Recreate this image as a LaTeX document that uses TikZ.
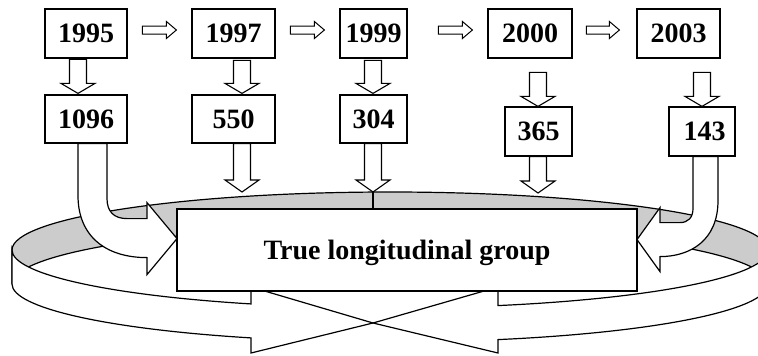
\documentclass[tikz,border=0pt]{standalone}
\usepackage{fontspec}
\setmainfont{Liberation Serif}
\usetikzlibrary{calc}
\definecolor{bandgray}{RGB}{204,204,204}
\begin{document}
\begin{tikzpicture}[x=1pt,y=1pt,line width=1.2pt,line join=miter,
  box/.style={draw,fill=white,inner sep=0pt,font=\fontsize{28}{30}\selectfont\bfseries},
  yearbox/.style={box,minimum height=49pt},
  downblk/.style={fill=white,draw,line width=1.1pt,to path={let \p1=(\tikztostart), \p2=(\tikztotarget) in
    (\x1-8.5,\y1) -- (\x1+8.5,\y1) -- (\x1+8.5,\y2+#1) -- (\x1+17,\y2+#1) -- (\x2,\y2) -- (\x1-17,\y2+#1) -- (\x1-8.5,\y2+#1) -- cycle}},
  downblk/.default=10,
  rightblk/.style={fill=white,draw,line width=1pt,to path={let \p1=(\tikztostart), \p2=(\tikztotarget) in
    (\x1,\y1+4) -- (\x2-10,\y1+4) -- (\x2-10,\y1+8.5) -- (\x2,\y1) -- (\x2-10,\y1-8.5) -- (\x2-10,\y1-4) -- (\x1,\y1-4) -- cycle}},
  ring/.style={x radius=378pt,y radius=58pt}
]
\useasboundingbox (0,0) rectangle (758,-356);
\clip (0,0) rectangle (758,-356);

% back of the ribbon ring (inside, grey)
\filldraw[fill=bandgray] (12,-250) arc[start angle=180,end angle=0,ring] -- (768,-284)
  arc[start angle=0,end angle=180,ring] -- cycle;
% seam where the two ribbon arrows start
\draw (373,-192.1) -- (373,-226.1);
% front of the ring: left ribbon arrow
\filldraw[fill=white] (12,-250) arc[start angle=180,end angle=248.43,ring] -- (251,-287) -- (373,-323)
  -- (251,-353) -- (251,-337.9) arc[start angle=248.43,end angle=180,ring] -- cycle;
% front of the ring: right ribbon arrow
\filldraw[fill=white] (768,-250) arc[start angle=360,end angle=286.6,ring] -- (498,-287) -- (373,-323)
  -- (498,-353) -- (498,-339.6) arc[start angle=286.6,end angle=360,ring] -- cycle;

% central box
\node[box,minimum width=460pt,minimum height=82pt,text depth=0pt] (group) at (407,-250) {True longitudinal group};

% year boxes
\node[yearbox,minimum width=82pt] (y1995) at (86,-33.5) {1995};
\node[yearbox,minimum width=83pt] (y1997) at (233.5,-33.5) {1997};
\node[yearbox,minimum width=67pt] (y1999) at (373.5,-33.5) {1999};
\node[yearbox,minimum width=84pt] (y2000) at (530,-33.5) {2000};
\node[yearbox,minimum width=83pt] (y2003) at (678.5,-33.5) {2003};

% count boxes
\node[box,minimum width=82pt,minimum height=48pt] (n1096) at (86,-119) {1096};
\node[box,minimum width=83pt,minimum height=48pt] (n550) at (233.5,-119) {550};
\node[box,minimum width=67pt,minimum height=48pt] (n304) at (373.5,-119) {304};
\node[box,minimum width=67pt,minimum height=49pt] (n365) at (538.5,-131.5) {365};
\node[box,minimum width=66pt,minimum height=49pt] (n143) at (702,-131.5) {\hspace*{5pt}143};

% arrows between years
\draw[rightblk] ($(y1997.west)+(-49,3.5)$) to ($(y1997.west)+(-15,3.5)$);
\draw[rightblk] ($(y1999.west)+(-49,3.5)$) to ($(y1999.west)+(-15,3.5)$);
\draw[rightblk] ($(y2000.west)+(-49,3.5)$) to ($(y2000.west)+(-15,3.5)$);
\draw[rightblk] ($(y2003.west)+(-50,3.5)$) to ($(y2003.west)+(-17,3.5)$);

% arrows from years to counts
\draw[downblk] ($(n1096.north)+(-8,35)$) to ($(n1096.north)+(-8,1)$);
\draw[downblk] ($(n550.north)+(8.5,34)$) to ($(n550.north)+(8.5,1)$);
\draw[downblk] ($(n304.north)+(-0.5,34)$) to ($(n304.north)+(-0.5,1)$);
\draw[downblk] ($(n365.north)+(-0.5,34)$) to ($(n365.north)+(-0.5,0)$);
\draw[downblk] ($(n143.north)+(0,34)$) to (n143.north);

% arrows from counts into the ring
\coordinate (t550) at (242,-192);
\coordinate (t304) at (373,-192);
\coordinate (t365) at (538,-193);
\draw[downblk=12] ($(n550.south)+(8.5,0)$) to (t550);
\draw[downblk=12] ($(n304.south)+(-0.5,0)$) to (t304);
\draw[downblk=12] ($(n365.south)+(-0.5,0)$) to (t365);

% curved arrow from 1096 into the group box
\filldraw[fill=white,shift={(n1096.south)}] (-8,0) -- (-8,-52) .. controls (-8,-92) and (19,-114) .. (61,-114)
  -- (61,-131) -- (91,-95) -- (61,-59) -- (61,-75) -- (41,-75)
  .. controls (28,-75) and (21,-68) .. (21,-55) -- (21,0) -- cycle;
% curved arrow from 143 into the group box
\filldraw[fill=white,shift={(n143.south)}] (16,0) -- (16,-44) .. controls (16,-84) and (-12,-100) .. (-42,-100)
  -- (-42,-115) -- (-65,-83) -- (-42,-51) -- (-42,-66) -- (-22,-66)
  .. controls (-14,-66) and (-9,-61) .. (-9,-52) -- (-9,0) -- cycle;
\end{tikzpicture}
\end{document}
